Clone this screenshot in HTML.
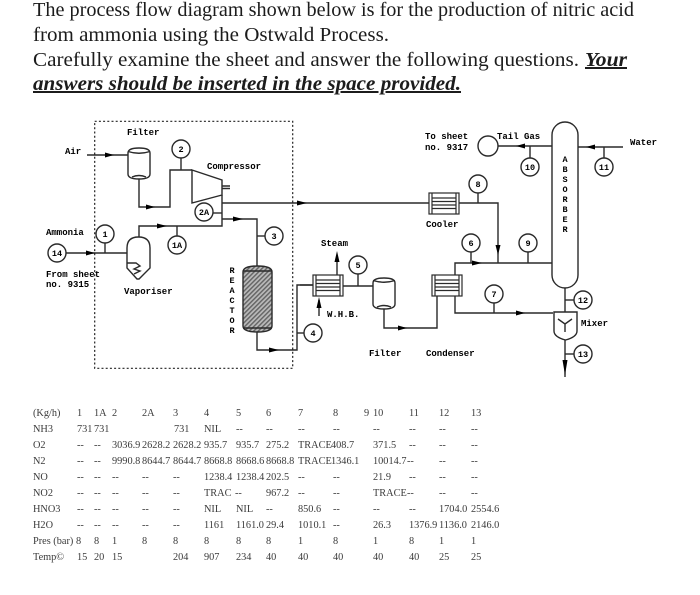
<!DOCTYPE html>
<html><head><meta charset="utf-8"><style>
html,body{margin:0;padding:0;background:#fff}
svg{display:block}
.h{font:20px "Liberation Serif",serif;fill:#1a1a1a}
.hb{font:italic bold 20px "Liberation Serif",serif;fill:#1a1a1a}
.m{font:bold 9px "Liberation Mono",monospace;fill:#000}
.c{font:bold 8.5px "Liberation Mono",monospace;fill:#000;text-anchor:middle}
.v{font:bold 8.5px "Liberation Mono",monospace;fill:#000;text-anchor:middle}
.t{font:10.3px "Liberation Serif",serif;fill:#3a3a3a}
</style></head><body>
<svg width="700" height="595" viewBox="0 0 700 595" xmlns="http://www.w3.org/2000/svg">
<defs>
<pattern id="hatch" width="3.2" height="3.2" patternUnits="userSpaceOnUse" patternTransform="rotate(45)">
<rect width="3.2" height="3.2" fill="#bbb"/><rect width="1.5" height="3.2" fill="#666"/>
</pattern>
<filter id="b" x="-5%" y="-5%" width="110%" height="110%"><feGaussianBlur stdDeviation="0.38"/></filter>
<filter id="b2" x="-2%" y="-10%" width="104%" height="120%"><feGaussianBlur stdDeviation="0.25"/></filter>
</defs>

<g filter="url(#b2)">
<text class="h" x="33" y="16" textLength="601" lengthAdjust="spacingAndGlyphs">The process flow diagram shown below is for the production of nitric acid</text>
<text class="h" x="33" y="41" textLength="356" lengthAdjust="spacingAndGlyphs">from ammonia using the Ostwald Process.</text>
<text class="h" x="33" y="66" textLength="546" lengthAdjust="spacingAndGlyphs">Carefully examine the sheet and answer the following questions.</text>
<text class="hb" x="585" y="66" text-decoration="underline" textLength="42" lengthAdjust="spacingAndGlyphs">Your</text>
<text class="hb" x="33" y="90" text-decoration="underline" textLength="428" lengthAdjust="spacingAndGlyphs">answers should be inserted in the space provided.</text>
</g>

<g filter="url(#b)">
<rect x="94.7" y="121.3" width="198" height="247" fill="none" stroke="#222" stroke-width="1.2" stroke-dasharray="2 2.2"/>

<g fill="none" stroke="#2a2a2a" stroke-width="1.4">
<path d="M87 155H128"/>
<path d="M139 179V207H170V170H192"/>
<path d="M181 158V170"/>
<path d="M192 170L222 180V195L192 203Z"/>
<path d="M222 195V226H139V237"/>
<path d="M213 213H222"/>
<path d="M222 203H429"/>
<path d="M222 219H257V266"/>
<path d="M257 236H265"/>
<path d="M222 186H230M222 188.5H230"/>
<path d="M257 332V350H297V285H313"/>
<path d="M297 333H304"/>
<path d="M66 253H127"/>
<path d="M105 243V253"/>
<path d="M177 226V236"/>
<path d="M459 203H498V263"/>
<path d="M478 193V203"/>
<path d="M455 275V263H552"/>
<path d="M471 252V263"/>
<path d="M528 252V263"/>
<path d="M498 146H552"/>
<path d="M530 146V158"/>
<path d="M578 147H623"/>
<path d="M604 147V158"/>
<path d="M437 296V328H384V309"/>
<path d="M358 274V286"/>
<path d="M343 286H373"/>
<path d="M337 275V258"/>
<path d="M319 316V300"/>
<path d="M300 285H313"/>
<path d="M455 296V313H553"/>
<path d="M494 303V313"/>
<path d="M565 288V312"/>
<path d="M565 300H574"/>
<path d="M565 340V377"/>
<path d="M565 354H574"/>

<path d="M128 153Q128 148 139 148Q150 148 150 153V174Q150 179 139 179Q128 179 128 174Z" fill="#fff"/>
<path d="M128 151.5Q139 155 150 151.5"/>
<path d="M132 177Q139 174 146 177"/>
<path d="M127 248Q127 237 138.5 237Q150 237 150 248V268L139 279H137L127 268Z" fill="#fff"/>
<path d="M127 263H136L140 266L134 269L140 271L134 274"/>
<path d="M243 272Q243 266 257.5 266Q272 266 272 272V326Q272 332 257.5 332Q243 332 243 326Z" fill="url(#hatch)"/>
<path d="M243 271H272M243 328H272"/>
<rect x="552" y="122" width="26" height="166" rx="13" ry="13" fill="#fff"/>
<path d="M554 312H577V331Q577 337 565.5 340Q554 337 554 331Z" fill="#fff"/>
<path d="M558 319L565 324L572 319M565 324V332"/>
<path d="M373 283Q373 278 384 278Q395 278 395 283V304Q395 309 384 309Q373 309 373 304Z" fill="#fff"/>
<path d="M373 280.5Q384 284 395 280.5"/>
<path d="M377 307Q384 304 391 307"/>
</g>

<g fill="#fff" stroke="#2a2a2a" stroke-width="1.2">
<rect x="429" y="193" width="30" height="21"/>
<path d="M432 193V214M456 193V214M432 198H456M432 201.5H456M432 205H456M432 208.5H456" fill="none"/>
<rect x="432" y="275" width="30" height="21"/>
<path d="M435 275V296M459 275V296M435 280H459M435 283.5H459M435 287H459M435 290.5H459" fill="none"/>
<rect x="313" y="275" width="30" height="21"/>
<path d="M316 275V296M340 275V296M316 280H340M316 283.5H340M316 287H340M316 290.5H340" fill="none"/>
</g>

<g fill="#000">
<path d="M105 152.5L114 155L105 157.5Z"/>
<path d="M146 204.5L155 207L146 209.5Z"/>
<path d="M86 250.5L95 253L86 255.5Z"/>
<path d="M157 223.5L167 226L157 228.5Z"/>
<path d="M233 216.5L243 219L233 221.5Z"/>
<path d="M297 200.5L307 203L297 205.5Z"/>
<path d="M269 347.5L279 350L269 352.5Z"/>
<path d="M495.5 245L498 255L500.5 245Z"/>
<path d="M472 260.5L482 263L472 265.5Z"/>
<path d="M525 143.5L516 146L525 148.5Z"/>
<path d="M595 144.5L586 147L595 149.5Z"/>
<path d="M398 325.5L407 328L398 330.5Z"/>
<path d="M516 310.5L525 313L516 315.5Z"/>
<path d="M334.5 262L337 251L339.5 262Z"/>
<path d="M316.5 308L319 297L321.5 308Z"/>
<path d="M562.5 360L565 375L567.5 360Z"/>
</g>

<g fill="#fff" stroke="#2a2a2a" stroke-width="1.4">
<circle cx="181" cy="149" r="9"/>
<circle cx="204" cy="212" r="9"/>
<circle cx="274" cy="236" r="9"/>
<circle cx="313" cy="333" r="9"/>
<circle cx="105" cy="234" r="9"/>
<circle cx="57" cy="253" r="9"/>
<circle cx="177" cy="245" r="9"/>
<circle cx="478" cy="184" r="9"/>
<circle cx="471" cy="243" r="9"/>
<circle cx="528" cy="243" r="9"/>
<circle cx="488" cy="146" r="10"/>
<circle cx="530" cy="167" r="9"/>
<circle cx="604" cy="167" r="9"/>
<circle cx="358" cy="265" r="9"/>
<circle cx="494" cy="294" r="9"/>
<circle cx="583" cy="300" r="9"/>
<circle cx="583" cy="354" r="9"/>
</g>
<g>
<text class="c" x="181" y="152">2</text>
<text class="c" x="204" y="215">2A</text>
<text class="c" x="274" y="239">3</text>
<text class="c" x="313" y="336">4</text>
<text class="c" x="105" y="237">1</text>
<text class="c" x="57" y="256">14</text>
<text class="c" x="177" y="248">1A</text>
<text class="c" x="478" y="187">8</text>
<text class="c" x="471" y="246">6</text>
<text class="c" x="528" y="246">9</text>
<text class="c" x="530" y="170">10</text>
<text class="c" x="604" y="170">11</text>
<text class="c" x="358" y="268">5</text>
<text class="c" x="494" y="297">7</text>
<text class="c" x="583" y="303">12</text>
<text class="c" x="583" y="357">13</text>
</g>

<g>
<text class="m" x="127" y="135">Filter</text>
<text class="m" x="65" y="154">Air</text>
<text class="m" x="207" y="169">Compressor</text>
<text class="m" x="46" y="235">Ammonia</text>
<text class="m" x="46" y="277">From sheet</text>
<text class="m" x="46" y="287">no. 9315</text>
<text class="m" x="124" y="294">Vaporiser</text>
<text class="m" x="425" y="139">To sheet</text>
<text class="m" x="425" y="150">no. 9317</text>
<text class="m" x="497" y="139">Tail Gas</text>
<text class="m" x="630" y="145">Water</text>
<text class="m" x="426" y="227">Cooler</text>
<text class="m" x="321" y="246">Steam</text>
<text class="m" x="327" y="317">W.H.B.</text>
<text class="m" x="369" y="356">Filter</text>
<text class="m" x="426" y="356">Condenser</text>
<text class="m" x="581" y="326">Mixer</text>
<g>
<text class="v" x="232" y="273">R</text><text class="v" x="232" y="283">E</text><text class="v" x="232" y="293">A</text><text class="v" x="232" y="303">C</text><text class="v" x="232" y="313">T</text><text class="v" x="232" y="323">O</text><text class="v" x="232" y="333">R</text>
<text class="v" x="565" y="162">A</text><text class="v" x="565" y="172">B</text><text class="v" x="565" y="182">S</text><text class="v" x="565" y="192">O</text><text class="v" x="565" y="202">R</text><text class="v" x="565" y="212">B</text><text class="v" x="565" y="222">E</text><text class="v" x="565" y="232">R</text>
</g>
</g>
</g>

<g filter="url(#b2)">
<g>
<text class="t" x="33" y="416">(Kg/h)</text><text class="t" x="77" y="416">1</text><text class="t" x="94" y="416">1A</text><text class="t" x="112" y="416">2</text><text class="t" x="142" y="416">2A</text><text class="t" x="173" y="416">3</text><text class="t" x="204" y="416">4</text><text class="t" x="236" y="416">5</text><text class="t" x="266" y="416">6</text><text class="t" x="298" y="416">7</text><text class="t" x="333" y="416">8</text><text class="t" x="364" y="416">9</text><text class="t" x="373" y="416">10</text><text class="t" x="409" y="416">11</text><text class="t" x="439" y="416">12</text><text class="t" x="471" y="416">13</text>
</g>
<g>
<text class="t" x="33" y="432">NH3</text><text class="t" x="77" y="432">731</text><text class="t" x="94" y="432">731</text><text class="t" x="174" y="432">731</text><text class="t" x="204" y="432">NIL</text><text class="t" x="236" y="432">--</text><text class="t" x="266" y="432">--</text><text class="t" x="298" y="432">--</text><text class="t" x="333" y="432">--</text><text class="t" x="373" y="432">--</text><text class="t" x="409" y="432">--</text><text class="t" x="439" y="432">--</text><text class="t" x="471" y="432">--</text>
</g>
<g>
<text class="t" x="33" y="448">O2</text><text class="t" x="77" y="448">--</text><text class="t" x="94" y="448">--</text><text class="t" x="112" y="448">3036.9</text><text class="t" x="142" y="448">2628.2</text><text class="t" x="173" y="448">2628.2</text><text class="t" x="204" y="448">935.7</text><text class="t" x="236" y="448">935.7</text><text class="t" x="266" y="448">275.2</text><text class="t" x="298" y="448">TRACE</text><text class="t" x="331" y="448">408.7</text><text class="t" x="373" y="448">371.5</text><text class="t" x="409" y="448">--</text><text class="t" x="439" y="448">--</text><text class="t" x="471" y="448">--</text>
</g>
<g>
<text class="t" x="33" y="464">N2</text><text class="t" x="77" y="464">--</text><text class="t" x="94" y="464">--</text><text class="t" x="112" y="464">9990.8</text><text class="t" x="142" y="464">8644.7</text><text class="t" x="173" y="464">8644.7</text><text class="t" x="204" y="464">8668.8</text><text class="t" x="236" y="464">8668.6</text><text class="t" x="266" y="464">8668.8</text><text class="t" x="298" y="464">TRACE</text><text class="t" x="331" y="464">1346.1</text><text class="t" x="373" y="464">10014.7</text><text class="t" x="407" y="464">--</text><text class="t" x="439" y="464">--</text><text class="t" x="471" y="464">--</text>
</g>
<g>
<text class="t" x="33" y="480">NO</text><text class="t" x="77" y="480">--</text><text class="t" x="94" y="480">--</text><text class="t" x="112" y="480">--</text><text class="t" x="142" y="480">--</text><text class="t" x="173" y="480">--</text><text class="t" x="204" y="480">1238.4</text><text class="t" x="236" y="480">1238.4</text><text class="t" x="266" y="480">202.5</text><text class="t" x="298" y="480">--</text><text class="t" x="333" y="480">--</text><text class="t" x="373" y="480">21.9</text><text class="t" x="409" y="480">--</text><text class="t" x="439" y="480">--</text><text class="t" x="471" y="480">--</text>
</g>
<g>
<text class="t" x="33" y="496">NO2</text><text class="t" x="77" y="496">--</text><text class="t" x="94" y="496">--</text><text class="t" x="112" y="496">--</text><text class="t" x="142" y="496">--</text><text class="t" x="173" y="496">--</text><text class="t" x="204" y="496">TRAC</text><text class="t" x="235" y="496">--</text><text class="t" x="266" y="496">967.2</text><text class="t" x="298" y="496">--</text><text class="t" x="333" y="496">--</text><text class="t" x="373" y="496">TRACE</text><text class="t" x="407" y="496">--</text><text class="t" x="439" y="496">--</text><text class="t" x="471" y="496">--</text>
</g>
<g>
<text class="t" x="33" y="512">HNO3</text><text class="t" x="77" y="512">--</text><text class="t" x="94" y="512">--</text><text class="t" x="112" y="512">--</text><text class="t" x="142" y="512">--</text><text class="t" x="173" y="512">--</text><text class="t" x="204" y="512">NIL</text><text class="t" x="236" y="512">NIL</text><text class="t" x="266" y="512">--</text><text class="t" x="298" y="512">850.6</text><text class="t" x="333" y="512">--</text><text class="t" x="373" y="512">--</text><text class="t" x="409" y="512">--</text><text class="t" x="439" y="512">1704.0</text><text class="t" x="471" y="512">2554.6</text>
</g>
<g>
<text class="t" x="33" y="528">H2O</text><text class="t" x="77" y="528">--</text><text class="t" x="94" y="528">--</text><text class="t" x="112" y="528">--</text><text class="t" x="142" y="528">--</text><text class="t" x="173" y="528">--</text><text class="t" x="204" y="528">1161</text><text class="t" x="236" y="528">1161.0</text><text class="t" x="266" y="528">29.4</text><text class="t" x="298" y="528">1010.1</text><text class="t" x="333" y="528">--</text><text class="t" x="373" y="528">26.3</text><text class="t" x="409" y="528">1376.9</text><text class="t" x="439" y="528">1136.0</text><text class="t" x="471" y="528">2146.0</text>
</g>
<g>
<text class="t" x="33" y="544">Pres (bar)</text><text class="t" x="76" y="544">8</text><text class="t" x="94" y="544">8</text><text class="t" x="112" y="544">1</text><text class="t" x="142" y="544">8</text><text class="t" x="173" y="544">8</text><text class="t" x="204" y="544">8</text><text class="t" x="236" y="544">8</text><text class="t" x="266" y="544">8</text><text class="t" x="298" y="544">1</text><text class="t" x="333" y="544">8</text><text class="t" x="373" y="544">1</text><text class="t" x="409" y="544">8</text><text class="t" x="439" y="544">1</text><text class="t" x="471" y="544">1</text>
</g>
<g>
<text class="t" x="33" y="560">Temp©</text><text class="t" x="77" y="560">15</text><text class="t" x="94" y="560">20</text><text class="t" x="112" y="560">15</text><text class="t" x="173" y="560">204</text><text class="t" x="204" y="560">907</text><text class="t" x="236" y="560">234</text><text class="t" x="266" y="560">40</text><text class="t" x="298" y="560">40</text><text class="t" x="333" y="560">40</text><text class="t" x="373" y="560">40</text><text class="t" x="409" y="560">40</text><text class="t" x="439" y="560">25</text><text class="t" x="471" y="560">25</text>
</g>
</g>
</svg>
</body></html>
